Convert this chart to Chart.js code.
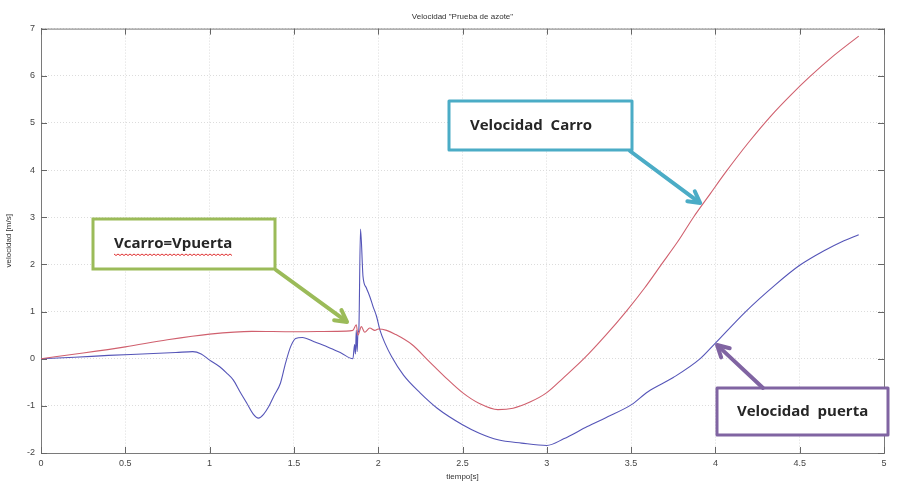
<!DOCTYPE html>
<html>
<head>
<meta charset="utf-8">
<script src="https://cdn.jsdelivr.net/npm/chart.js@4"></script>
<style>
  html, body { margin: 0; padding: 0; background: #fff; }
  #wrap { width: 897px; height: 485px; position: relative; }
</style>
</head>
<body>
<div id="wrap"><canvas id="chart" width="897" height="485"></canvas></div>
<script>
// ----- Data -----
// Velocidad Carro (red)
const tCarro = [0, 0.25, 0.5, 0.75, 1.0, 1.25, 1.5, 1.75, 1.85, 1.87, 1.88, 1.9, 1.92, 1.95, 1.98, 2.0, 2.05, 2.1, 2.2, 2.3, 2.4, 2.5, 2.6, 2.71, 2.8, 2.9, 3.0, 3.1, 3.22, 3.35, 3.47, 3.58, 3.68, 3.78, 3.87, 3.97, 4.06, 4.2, 4.33, 4.45, 4.56, 4.7, 4.85];
const vCarro = [0, 0.12, 0.25, 0.4, 0.52, 0.58, 0.57, 0.58, 0.6, 0.72, 0.5, 0.68, 0.56, 0.65, 0.6, 0.63, 0.6, 0.52, 0.3, -0.05, -0.4, -0.72, -0.95, -1.08, -1.05, -0.92, -0.72, -0.4, 0.0, 0.5, 1.0, 1.5, 2.0, 2.5, 3.0, 3.5, 3.95, 4.6, 5.15, 5.6, 5.98, 6.42, 6.84];

// Velocidad puerta (blue)
const tPuerta = [0, 0.2, 0.4, 0.6, 0.8, 0.9, 0.95, 1.0, 1.06, 1.1, 1.14, 1.18, 1.22, 1.26, 1.29, 1.32, 1.35, 1.38, 1.42, 1.45, 1.48, 1.51, 1.55, 1.62, 1.7, 1.78, 1.85, 1.86, 1.865, 1.87, 1.875, 1.88, 1.885, 1.895, 1.91, 1.93, 1.95, 1.97, 1.99, 2.01, 2.04, 2.08, 2.15, 2.25, 2.35, 2.5, 2.6, 2.71, 2.85, 3.0, 3.1, 3.24, 3.35, 3.5, 3.6, 3.75, 3.91, 4.0, 4.18, 4.35, 4.5, 4.65, 4.75, 4.85];
const vPuerta = [0, 0.03, 0.07, 0.1, 0.13, 0.15, 0.1, -0.03, -0.17, -0.3, -0.45, -0.7, -0.94, -1.18, -1.26, -1.18, -1.02, -0.8, -0.52, -0.1, 0.25, 0.43, 0.45, 0.36, 0.25, 0.12, 0.0, 0.3, 0.1, 0.6, 0.15, 0.55, 0.6, 2.75, 1.74, 1.5, 1.32, 1.1, 0.9, 0.61, 0.33, 0.04, -0.35, -0.73, -1.05, -1.4, -1.58, -1.72, -1.79, -1.84, -1.7, -1.44, -1.25, -0.98, -0.7, -0.4, 0.0, 0.33, 1.0, 1.55, 1.98, 2.3, 2.48, 2.63];

// Axis ticks
const xTicks = [0, 0.5, 1, 1.5, 2, 2.5, 3, 3.5, 4, 4.5, 5];
const yTicks = [-2, -1, 0, 1, 2, 3, 4, 5, 6, 7];

// Callout boxes (text + arrow tip in data units)
const callouts = [
  { text: "Vcarro=Vpuerta", color: "#9bbb59", box: [93, 219, 182, 50], textX: 114, from: [276, 270], tip: [1.815, 0.78], squiggle: true },
  { text: "Velocidad  Carro", color: "#4bacc6", box: [449, 101, 183, 49], textX: 470, from: [630, 151], tip: [3.91, 3.30] },
  { text: "Velocidad  puerta", color: "#8064a2", box: [717, 388, 171, 47], textX: 737, from: [763, 388], tip: [4.01, 0.29] }
];

const toPoints = (xs, ys) => xs.map((x, i) => ({ x, y: ys[i] }));

// ----- Plugins -----
const framePlugin = {
  id: "frame",
  beforeDatasetsDraw(chart) {
    const { ctx, chartArea: a, scales } = chart;
    ctx.save();
    ctx.strokeStyle = "#7a7a7a";
    ctx.lineWidth = 1;
    ctx.strokeRect(a.left + 0.5, a.top + 0.5, a.right - a.left, a.bottom - a.top);
    // inward tick marks on all four sides
    ctx.strokeStyle = "#666";
    ctx.beginPath();
    xTicks.forEach(v => {
      const px = Math.round(scales.x.getPixelForValue(v)) + 0.5;
      ctx.moveTo(px, a.bottom); ctx.lineTo(px, a.bottom - 6);
      ctx.moveTo(px, a.top); ctx.lineTo(px, a.top + 6);
    });
    yTicks.forEach(v => {
      const py = Math.round(scales.y.getPixelForValue(v)) + 0.5;
      ctx.moveTo(a.left, py); ctx.lineTo(a.left + 6, py);
      ctx.moveTo(a.right, py); ctx.lineTo(a.right - 6, py);
    });
    ctx.stroke();
    ctx.restore();
  }
};

function drawArrow(ctx, x1, y1, x2, y2, color) {
  const ang = Math.atan2(y2 - y1, x2 - x1);
  const head = 13;
  ctx.strokeStyle = color;
  ctx.lineWidth = 4;
  ctx.lineCap = "round";
  ctx.lineJoin = "round";
  ctx.beginPath();
  ctx.moveTo(x1, y1);
  ctx.lineTo(x2 - Math.cos(ang) * 2, y2 - Math.sin(ang) * 2);
  ctx.stroke();
  ctx.beginPath();
  ctx.moveTo(x2 - head * Math.cos(ang - 0.5), y2 - head * Math.sin(ang - 0.5));
  ctx.lineTo(x2, y2);
  ctx.lineTo(x2 - head * Math.cos(ang + 0.5), y2 - head * Math.sin(ang + 0.5));
  ctx.stroke();
}

const calloutPlugin = {
  id: "callouts",
  afterDraw(chart) {
    const { ctx, scales } = chart;
    ctx.save();
    callouts.forEach(c => {
      const [bx, by, bw, bh] = c.box;
      ctx.fillStyle = "#fff";
      ctx.fillRect(bx, by, bw, bh);
      ctx.strokeStyle = c.color;
      ctx.lineWidth = 3;
      ctx.strokeRect(bx, by, bw, bh);
      ctx.font = "bold 15px 'Open Sans', sans-serif";
      ctx.fillStyle = "#262626";
      ctx.textBaseline = "middle";
      ctx.fillText(c.text, c.textX, by + bh / 2);
      if (c.squiggle) {
        const w = ctx.measureText(c.text).width;
        const y0 = by + bh / 2 + 10;
        ctx.strokeStyle = "#e03030";
        ctx.lineWidth = 1;
        ctx.beginPath();
        for (let x = 0; x <= w; x += 2) {
          const yy = y0 + ((x / 2) % 2 === 0 ? 0 : 1.5);
          if (x === 0) ctx.moveTo(c.textX + x, yy); else ctx.lineTo(c.textX + x, yy);
        }
        ctx.stroke();
      }
      const tx = scales.x.getPixelForValue(c.tip[0]);
      const ty = scales.y.getPixelForValue(c.tip[1]);
      drawArrow(ctx, c.from[0], c.from[1], tx, ty, c.color);
    });
    ctx.restore();
  }
};

// ----- Chart -----
const tickFont = { family: "'Liberation Sans', Arial, sans-serif", size: 9 };

new Chart(document.getElementById("chart").getContext("2d"), {
  type: "line",
  data: {
    datasets: [
      { label: "Velocidad Carro", data: toPoints(tCarro, vCarro), borderColor: "#d0606e", borderWidth: 1.1, pointRadius: 0, cubicInterpolationMode: "monotone" },
      { label: "Velocidad puerta", data: toPoints(tPuerta, vPuerta), borderColor: "#5555b8", borderWidth: 1.1, pointRadius: 0, cubicInterpolationMode: "monotone" }
    ]
  },
  options: {
    responsive: false,
    animation: false,
    layout: { padding: { left: 0, right: 13, top: 0, bottom: 0 } },
    plugins: {
      legend: { display: false },
      tooltip: { enabled: false },
      title: {
        display: true,
        text: 'Velocidad "Prueba de azote"',
        fullSize: false,
        color: "#333",
        font: { family: "'Liberation Sans', Arial, sans-serif", size: 8, weight: "normal" },
        padding: { top: 12, bottom: 7 }
      }
    },
    scales: {
      x: {
        type: "linear",
        min: 0, max: 5,
        afterBuildTicks: s => { s.ticks = xTicks.map(v => ({ value: v })); },
        afterFit: s => { s.height = 32; },
        ticks: { color: "#444", font: tickFont, padding: 5, maxRotation: 0, callback: v => String(v) },
        grid: { color: "#dcdcdc", drawTicks: false },
        border: { color: "#7a7a7a", dash: [1, 2] },
        title: { display: true, text: "tiempo[s]", color: "#333", font: { family: "'Liberation Sans', Arial, sans-serif", size: 8 }, padding: { top: 0, bottom: 3 } }
      },
      y: {
        min: -2, max: 7,
        afterBuildTicks: s => { s.ticks = yTicks.map(v => ({ value: v })); },
        afterFit: s => { s.width = 41; },
        ticks: { color: "#444", font: tickFont, padding: 6, callback: v => String(v) },
        grid: { color: "#dcdcdc", drawTicks: false },
        border: { color: "#7a7a7a", dash: [1, 2] },
        title: { display: true, text: "velocidad [m/s]", color: "#333", font: { family: "'Liberation Sans', Arial, sans-serif", size: 8 }, padding: { top: 4, bottom: 0 } }
      }
    }
  },
  plugins: [framePlugin, calloutPlugin]
});
</script>
</body>
</html>
